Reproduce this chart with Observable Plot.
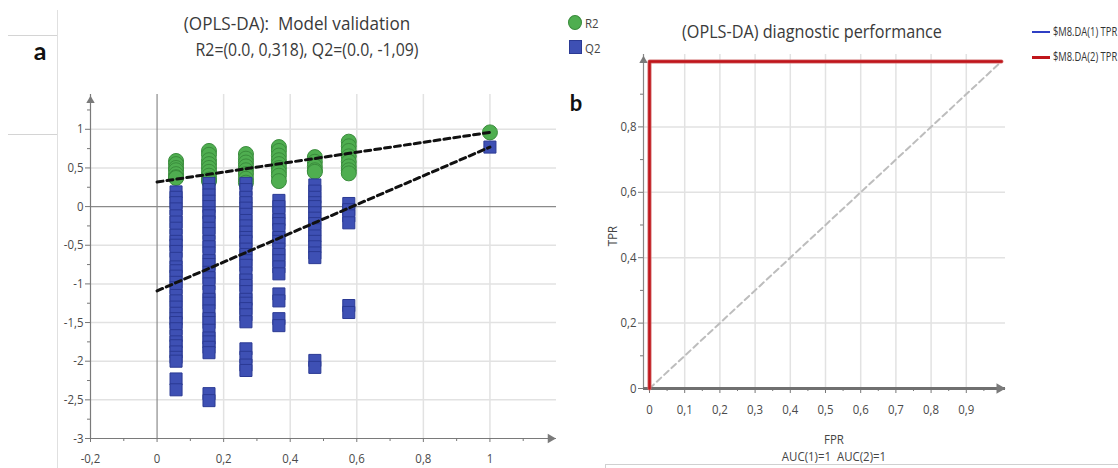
<!DOCTYPE html>
<html><head><meta charset="utf-8">
<script src="https://cdn.jsdelivr.net/npm/d3@7"></script>
<script src="https://cdn.jsdelivr.net/npm/@observablehq/plot@0.6"></script>
<style>
html,body{margin:0;padding:0;background:#fff;overflow:hidden;width:1118px;height:468px;}
#root{position:relative;width:1118px;height:468px;overflow:hidden;font-family:"Open Sans",sans-serif;color:#333;}
.t{position:absolute;white-space:pre;line-height:1;}
.panel{position:absolute;top:0;}
.deco{position:absolute;}
</style></head><body><div id="root"></div>
<script>
// ---------- Panel a: permutation test (OPLS-DA model validation) ----------
const permCorr = [0.057, 0.156, 0.267, 0.366, 0.474, 0.576, 1.0];
const r2Values = [
  [0.59, 0.55, 0.5, 0.47, 0.42, 0.38, 0.37],
  [0.72, 0.67, 0.6, 0.55, 0.5, 0.45, 0.4, 0.35, 0.33],
  [0.68, 0.62, 0.57, 0.52, 0.47, 0.42, 0.36, 0.31],
  [0.77, 0.72, 0.66, 0.6, 0.55, 0.5, 0.45, 0.4, 0.33],
  [0.64, 0.58, 0.52, 0.47, 0.45],
  [0.84, 0.78, 0.72, 0.65, 0.58, 0.52, 0.47, 0.43],
  [0.96]
];
const q2Values = [
  [0.19, 0.12, 0.05, -0.03, -0.12, -0.2, -0.28, -0.37, -0.45, -0.5, -0.58, -0.67, -0.78, -0.83, -0.9, -0.98, -1.05, -1.15, -1.22, -1.3, -1.38, -1.45, -1.5, -1.58, -1.67, -1.75, -1.8, -1.88, -1.95, -2.0, -2.23, -2.37],
  [0.3, 0.22, 0.15, 0.07, 0.0, -0.08, -0.12, -0.2, -0.28, -0.35, -0.45, -0.52, -0.6, -0.7, -0.75, -0.85, -0.92, -1.0, -1.1, -1.2, -1.25, -1.35, -1.45, -1.5, -1.6, -1.7, -1.75, -1.82, -1.89, -2.42, -2.51],
  [0.3, 0.22, 0.12, 0.05, -0.02, -0.1, -0.18, -0.25, -0.33, -0.4, -0.45, -0.55, -0.62, -0.7, -0.76, -0.86, -0.95, -1.02, -1.1, -1.2, -1.25, -1.32, -1.4, -1.49, -1.84, -1.95, -2.05, -2.12],
  [0.08, 0.0, -0.08, -0.17, -0.22, -0.3, -0.4, -0.45, -0.55, -0.62, -0.7, -0.78, -0.87, -1.13, -1.22, -1.45, -1.54],
  [0.28, 0.2, 0.12, 0.05, 0.0, -0.08, -0.15, -0.22, -0.3, -0.38, -0.45, -0.52, -0.6, -0.66, -1.99, -2.08],
  [0.04, -0.04, -0.12, -0.21, -1.28, -1.37],
  [0.77]
];
const r2Intercept = 0.318;
const q2Intercept = -1.09;
const xTicksA = [-0.2, 0, 0.2, 0.4, 0.6, 0.8, 1];
const xMinorA = [-0.1, 0.1, 0.3, 0.5, 0.7, 0.9, 1.1];
const yTicksA = [1, 0.5, 0, -0.5, -1, -1.5, -2, -2.5, -3];
const yMinorA = [1.25, 0.75, 0.25, -0.25, -0.75, -1.25, -1.75, -2.25, -2.75];

// ---------- Panel b: ROC (diagnostic performance) ----------
const rocFPR = [0, 0, 1];
const rocTPR1 = [0, 1, 1];
const rocTPR2 = [0, 1, 1];
const chanceFPR = [0, 1];
const chanceTPR = [0, 1];
const xTicksB = [0, 0.1, 0.2, 0.3, 0.4, 0.5, 0.6, 0.7, 0.8, 0.9];
const xMinorB = [0.05, 0.15, 0.25, 0.35, 0.45, 0.55, 0.65, 0.75, 0.85, 0.95];
const yTicksB = [0, 0.2, 0.4, 0.6, 0.8];
const yMinorB = [0.1, 0.3, 0.5, 0.7, 0.9];
const aucValues = [1, 1];

const fmt = d => String(d).replace(".", ",");
const root = document.getElementById("root");
const FONT = '"Open Sans", sans-serif';

// ---------- build panel a ----------
const r2Data = permCorr.flatMap((c, i) => r2Values[i].map(v => ({corr: c, value: v})));
const q2Data = permCorr.flatMap((c, i) => q2Values[i].map(v => ({corr: c, value: v})));
const last = permCorr.length - 1;
const r2Line = [{corr: 0, value: r2Intercept}, {corr: permCorr[last], value: r2Values[last][0]}];
const q2Line = [{corr: 0, value: q2Intercept}, {corr: permCorr[last], value: q2Values[last][0]}];

const plotA = Plot.plot({
  width: 600, height: 480,
  marginLeft: 90, marginRight: 44, marginTop: 94, marginBottom: 42,
  x: {domain: [-0.2, 1.2], axis: null},
  y: {domain: [-3, 1.45], axis: null},
  style: {fontFamily: FONT, fontSize: "13px", color: "#4a4a4a", background: "transparent", overflow: "visible"},
  marks: [
    Plot.ruleX([0.2, 0.4, 0.6, 0.8, 1], {stroke: "#e2e2e2", strokeWidth: 1.5}),
    Plot.ruleY([1, 0.5, -0.5, -1, -1.5, -2, -2.5], {stroke: "#e2e2e2", strokeWidth: 1.5}),
    Plot.ruleY([0], {stroke: "#8a8a8a", strokeWidth: 1.2}),
    Plot.ruleX([0], {stroke: "#8a8a8a", strokeWidth: 1.2}),
    Plot.ruleX([-0.2], {stroke: "#7a7a7a", strokeWidth: 1.2}),
    Plot.ruleY([-3], {stroke: "#7a7a7a", strokeWidth: 1.2}),
    Plot.axisY(yTicksA, {tickSize: 5, tickPadding: 2, tickFormat: fmt, label: null, stroke: "#777", fill: "#4a4a4a"}),
    Plot.axisY(yMinorA, {tickSize: 3, tickFormat: () => "", label: null, stroke: "#777"}),
    Plot.axisX(xTicksA, {tickSize: 4, tickPadding: 11, tickFormat: fmt, label: null, stroke: "#777", fill: "#4a4a4a"}),
    Plot.axisX(xMinorA, {tickSize: 3, tickFormat: () => "", label: null, stroke: "#777"}),
    Plot.dot([0], {frameAnchor: "top-left", dy: 6, symbol: "triangle2", r: 4, fill: "#7a7a7a"}),
    Plot.dot([0], {frameAnchor: "bottom-right", dx: -6, rotate: 90, symbol: "triangle2", r: 4.5, fill: "#7a7a7a"}),
    Plot.dot(r2Data, {x: "corr", y: "value", r: 7.5, fill: "#4fae50", stroke: "#3a8c3c", strokeWidth: 1}),
    Plot.dot(q2Data, {x: "corr", y: "value", symbol: "square", r: 6.8, fill: "#3e50b4", stroke: "#2b3a94", strokeWidth: 1}),
    Plot.line(r2Line, {x: "corr", y: "value", stroke: "#111", strokeWidth: 3, strokeDasharray: "6,4"}),
    Plot.line(q2Line, {x: "corr", y: "value", stroke: "#111", strokeWidth: 3, strokeDasharray: "6,4"})
  ]
});
plotA.classList.add("panel");
plotA.style.left = "0px";
root.appendChild(plotA);

// ---------- build panel b ----------
const roc1 = rocFPR.map((f, i) => ({fpr: f, tpr: rocTPR1[i]}));
const roc2 = rocFPR.map((f, i) => ({fpr: f, tpr: rocTPR2[i]}));
const chance = chanceFPR.map((f, i) => ({fpr: f, tpr: chanceTPR[i]}));

const plotB = Plot.plot({
  width: 558, height: 480,
  marginLeft: 83, marginRight: 113, marginTop: 54, marginBottom: 92,
  x: {domain: [-0.01705, 1.0114], axis: null},
  y: {domain: [0, 1.0214], axis: null},
  style: {fontFamily: FONT, fontSize: "13px", color: "#4a4a4a", background: "transparent", overflow: "visible"},
  marks: [
    Plot.ruleX(xTicksB.filter(d => d > 0), {stroke: "#e2e2e2", strokeWidth: 1.5}),
    Plot.ruleY(yTicksB.filter(d => d > 0), {stroke: "#e2e2e2", strokeWidth: 1.5}),
    Plot.line(chance, {x: "fpr", y: "tpr", stroke: "#bdbdbd", strokeWidth: 2, strokeDasharray: "6,4"}),
    Plot.ruleX([-0.01705], {stroke: "#888", strokeWidth: 1.2}),
    Plot.axisY(yTicksB, {tickSize: 5, tickPadding: 2, tickFormat: fmt, label: null, stroke: "#777", fill: "#4a4a4a"}),
    Plot.axisY(yMinorB, {tickSize: 3, tickFormat: () => "", label: null, stroke: "#777"}),
    Plot.axisX(xTicksB, {tickSize: 5, tickPadding: 11, tickFormat: fmt, label: null, stroke: "#777", fill: "#4a4a4a"}),
    Plot.axisX(xMinorB, {tickSize: 3, tickFormat: () => "", label: null, stroke: "#777"}),
    Plot.ruleY([0], {stroke: "#707070", strokeWidth: 3}),
    Plot.dot([0], {frameAnchor: "top-left", dy: 6, symbol: "triangle2", r: 4, fill: "#7a7a7a"}),
    Plot.dot([0], {frameAnchor: "bottom-right", dx: -6, rotate: 90, symbol: "triangle2", r: 5, fill: "#7a7a7a"}),
    Plot.line(roc1, {x: "fpr", y: "tpr", stroke: "#2f3fc4", strokeWidth: 3}),
    Plot.line(roc2, {x: "fpr", y: "tpr", stroke: "#d27070", strokeWidth: 4}),
    Plot.line(roc2, {x: "fpr", y: "tpr", stroke: "#c0151b", strokeWidth: 2.4})
  ]
});
plotB.classList.add("panel");
plotB.style.left = "560px";
root.appendChild(plotB);

// compress SVG text horizontally (narrow look of the reference)
for (const svg of [plotA, plotB]) {
  svg.querySelectorAll("text").forEach(el => {
    const L = el.getComputedTextLength();
    if (L > 0) { el.setAttribute("textLength", (L * 0.88).toFixed(1)); el.setAttribute("lengthAdjust", "spacingAndGlyphs"); }
  });
}

// ---------- HTML text & decorations ----------
function text(str, x, y, o = {}) {
  const d = document.createElement("div");
  d.className = "t";
  d.textContent = str;
  d.style.left = x + "px";
  d.style.top = y + "px";
  d.style.fontSize = (o.size || 12) + "px";
  d.style.fontWeight = o.weight || "normal";
  d.style.color = o.color || "#333";
  if (o.family) d.style.fontFamily = o.family;
  const sx = o.sx || 0.88;
  const align = o.align || "center";
  const rot = o.rotate ? ` rotate(${o.rotate}deg)` : "";
  if (align === "center") { d.style.transform = `translate(-50%,-50%)${rot} scaleX(${sx})`; d.style.transformOrigin = "50% 50%"; }
  else { d.style.transform = `translate(0,-50%) scaleX(${sx})`; d.style.transformOrigin = "0 50%"; }
  root.appendChild(d);
  return d;
}
function box(x, y, w, h, css) {
  const d = document.createElement("div");
  d.className = "deco";
  Object.assign(d.style, {left: x + "px", top: y + "px", width: w + "px", height: h + "px"}, css);
  root.appendChild(d);
  return d;
}

// screenshot frame artifacts
box(8, 35, 49, 98, {borderTop: "1px solid #d4d4d4", borderBottom: "1px solid #d4d4d4"});
box(57, 10, 0, 460, {borderLeft: "1px solid #e0e0e0"});

// panel a texts
text("a", 40, 50, {size: 25, weight: "bold", color: "#111", family: "Lato, sans-serif", sx: 1});
text("(OPLS-DA):  Model validation", 297, 23, {size: 18, color: "#3a3a3a", sx: 0.95});
text("R2=(0.0, 0,318), Q2=(0.0, -1,09)", 307, 49, {size: 18, color: "#3a3a3a", sx: 0.88});
box(568, 15, 14, 15, {background: "#4fae50", border: "1px solid #3a8c3c", borderRadius: "50%", boxSizing: "border-box"});
text("R2", 585, 23, {size: 13, align: "left", color: "#444"});
box(569, 40, 13, 14, {background: "#3e50b4", border: "1px solid #2b3a94", boxSizing: "border-box"});
text("Q2", 585, 48, {size: 13, align: "left", color: "#444"});

// panel b texts
text("b", 576, 103, {size: 22, weight: "bold", color: "#111", family: "Lato, sans-serif", sx: 1});
text("(OPLS-DA) diagnostic performance", 812, 31, {size: 18, color: "#3a3a3a", sx: 0.9});
box(1032, 31, 18, 0, {borderTop: "2px solid #2f3fc4"});
text("$M8.DA(1) TPR", 1053, 32, {size: 12, align: "left", color: "#333", sx: 0.78});
box(1032, 56, 18, 0, {borderTop: "3px solid #c0151b"});
text("$M8.DA(2) TPR", 1053, 57, {size: 12, align: "left", color: "#333", sx: 0.78});
text("TPR", 612, 236, {size: 13, rotate: -90, color: "#444"});
text("FPR", 834, 439, {size: 13, color: "#444"});
text(`AUC(1)=${aucValues[0]}  AUC(2)=${aucValues[1]}`, 834, 456, {size: 13, color: "#444"});
box(605, 464, 520, 30, {border: "1px solid #d0d0d0", background: "#fff", boxSizing: "border-box"});
</script></body></html>
